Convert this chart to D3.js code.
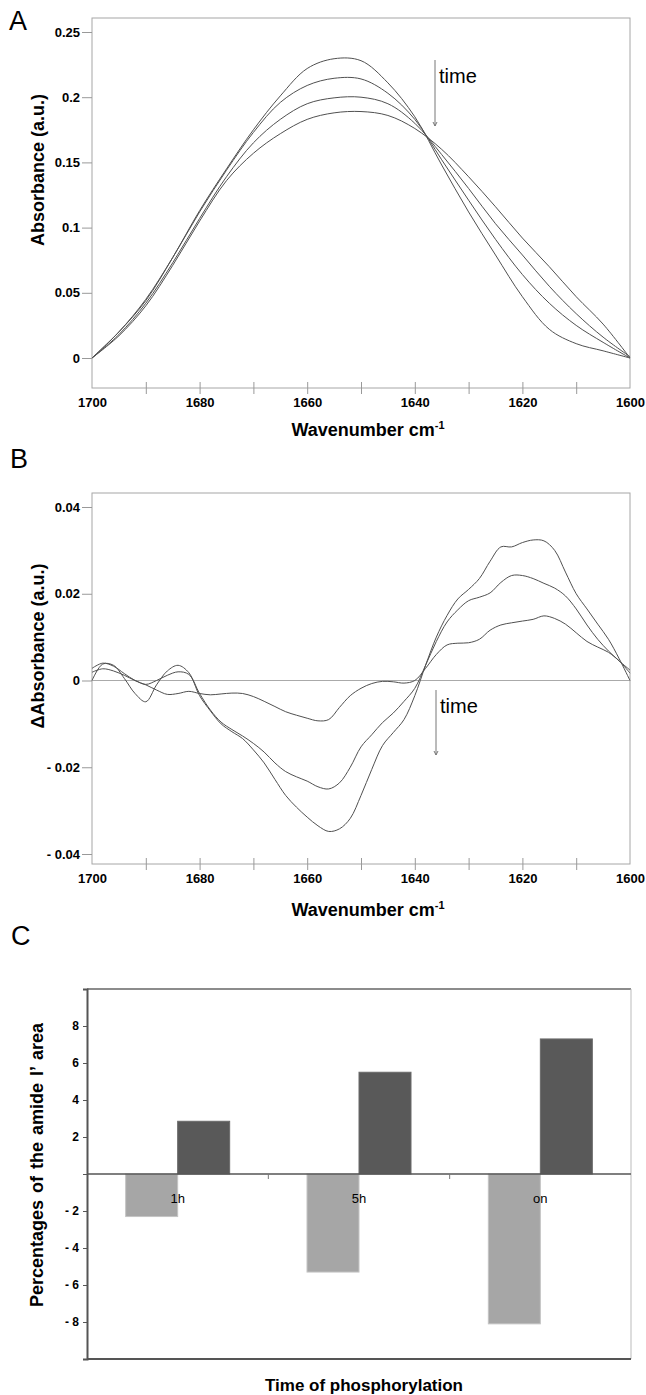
<!DOCTYPE html>
<html>
<head>
<meta charset="utf-8">
<script src="https://cdnjs.cloudflare.com/ajax/libs/d3/7.8.5/d3.min.js"></script>
<style>
    body { margin: 0; background: #fff; }
    svg text { font-family: "Liberation Sans", Arial, Helvetica, sans-serif; fill: #000; }
</style>
</head>
<body>
<div id="figure"></div>
<script>

// ---- Panel A: absorbance spectra (4 time points) ----
var wavenumbersA = [1700, 1695, 1690, 1685, 1680, 1675, 1670, 1665, 1660, 1655, 1650,
                    1645, 1640, 1635, 1630, 1625, 1620, 1615, 1610, 1605, 1600];
var absorbanceT1 = [0.000, 0.020, 0.044, 0.077, 0.113, 0.145, 0.175, 0.201, 0.222, 0.2295, 0.228,
                    0.211, 0.185, 0.148, 0.112, 0.079, 0.047, 0.022, 0.011, 0.0055, 0.000];
var absorbanceT2 = [0.000, 0.020, 0.045, 0.077, 0.112, 0.144, 0.173, 0.196, 0.209, 0.2145, 0.214,
                    0.203, 0.183, 0.152, 0.121, 0.091, 0.064, 0.042, 0.025, 0.012, 0.000];
var absorbanceT3 = [0.000, 0.018, 0.042, 0.073, 0.107, 0.139, 0.165, 0.183, 0.195, 0.1995, 0.200,
                    0.195, 0.180, 0.156, 0.130, 0.103, 0.079, 0.055, 0.034, 0.016, 0.001];
var absorbanceT4 = [0.000, 0.017, 0.040, 0.071, 0.105, 0.136, 0.157, 0.172, 0.183, 0.188, 0.189,
                    0.186, 0.176, 0.160, 0.139, 0.116, 0.092, 0.070, 0.047, 0.026, 0.000];
var yTicksA = [0, 0.05, 0.1, 0.15, 0.2, 0.25];

// ---- Panel B: difference spectra (3 time points) ----
var wavenumbersB = [1700, 1698, 1696, 1694, 1692, 1690, 1688, 1686, 1684, 1682, 1680,
                    1678, 1676, 1674, 1672, 1670, 1668, 1666, 1664, 1662, 1660,
                    1658, 1656, 1654, 1652, 1650, 1648, 1646, 1644, 1642, 1640,
                    1638, 1636, 1634, 1632, 1630, 1628, 1626, 1624, 1622, 1620,
                    1618, 1616, 1614, 1612, 1610, 1608, 1606, 1604, 1602, 1600];
var deltaAbs1h = [0.0028, 0.0040, 0.0033, 0.0016, 0.0000, -0.0010, -0.0022, -0.0032, -0.0030, -0.0025, -0.0030,
                  -0.0033, -0.0031, -0.0029, -0.0030, -0.0037, -0.0048, -0.0060, -0.0072, -0.0080, -0.0087,
                  -0.0093, -0.0090, -0.0062, -0.0035, -0.0018, -0.0007, -0.0002, -0.0003, -0.0006, 0.0000,
                  0.0028, 0.0060, 0.0082, 0.0086, 0.0087, 0.0095, 0.0116, 0.0128, 0.0133, 0.0137,
                  0.0141, 0.0149, 0.0143, 0.0130, 0.0110, 0.0090, 0.0077, 0.0065, 0.0045, 0.0017];
var deltaAbs5h = [0.0019, 0.0027, 0.0022, 0.0012, 0.0000, -0.0009, 0.0000, 0.0012, 0.0020, 0.0014, -0.0030,
                  -0.0068, -0.0096, -0.0113, -0.0128, -0.0145, -0.0165, -0.0190, -0.0210, -0.0222, -0.0232,
                  -0.0245, -0.0250, -0.0236, -0.0200, -0.0153, -0.0125, -0.0097, -0.0075, -0.0048, -0.0018,
                  0.0035, 0.0090, 0.0135, 0.0163, 0.0184, 0.0192, 0.0202, 0.0226, 0.0242, 0.0242,
                  0.0235, 0.0224, 0.0213, 0.0195, 0.0165, 0.0128, 0.0095, 0.0068, 0.0045, 0.0024];
var deltaAbsOn = [0.0000, 0.0038, 0.0035, 0.0005, -0.0030, -0.0049, -0.0010, 0.0022, 0.0035, 0.0018, -0.0035,
                  -0.0070, -0.0100, -0.0118, -0.0134, -0.0160, -0.0190, -0.0228, -0.0265, -0.0292, -0.0315,
                  -0.0335, -0.0348, -0.0342, -0.0318, -0.0265, -0.0205, -0.0150, -0.0120, -0.0090, -0.0035,
                  0.0035, 0.0100, 0.0150, 0.0188, 0.0210, 0.0235, 0.0275, 0.0308, 0.0308, 0.0318,
                  0.0324, 0.0322, 0.0300, 0.0250, 0.0200, 0.0165, 0.0130, 0.0095, 0.0050, 0.0000];
var yTicksB = [-0.04, -0.02, 0, 0.02, 0.04];

// shared x axis ticks
var xLabelTicks = [1700, 1680, 1660, 1640, 1620, 1600];
var xMinorTicks = [1690, 1680, 1670, 1660, 1650, 1640, 1630, 1620, 1610];

// ---- Panel C: amide I' area changes ----
var timeLabels = ["1h", "5h", "on"];
var decreasePct = [-2.3, -5.3, -8.1];
var increasePct = [2.85, 5.5, 7.3];
var yTicksC = [-10, -8, -6, -4, -2, 0, 2, 4, 6, 8, 10];


var svg = d3.select("#figure").append("svg")
    .attr("width", 646)
    .attr("height", 1395);

function panelLetter(letter, x, y) {
    svg.append("text")
        .attr("x", x)
        .attr("y", y)
        .attr("font-size", 27)
        .text(letter);
}

function styleAxisText(g, size) {
    g.selectAll("text")
        .attr("font-size", size)
        .attr("font-weight", "bold")
        .attr("font-family", "Liberation Sans, Arial, sans-serif")
        .attr("fill", "#000");
    g.attr("font-family", null).attr("font-size", null);
}


/*
 * SpectrumPanel - one FTIR spectrum plot (panels A and B)
 */
SpectrumPanel = function(_opts) {
    this.opts = _opts;
    this.initVis();
};

SpectrumPanel.prototype.initVis = function() {
    var vis = this;
    var o = vis.opts;

    vis.left = 92; vis.right = 630;

    vis.x = d3.scaleLinear().domain([1700, 1600]).range([vis.left, vis.right]);
    vis.y = d3.scaleLinear().domain(o.yDomain).range(o.yRange);

    // frame
    svg.append("rect")
        .attr("x", vis.left)
        .attr("y", o.top)
        .attr("width", vis.right - vis.left)
        .attr("height", o.bottom - o.top)
        .attr("fill", "none")
        .attr("stroke", "#a6a6a6")
        .attr("stroke-width", 1);

    // y axis
    var yAxis = d3.axisLeft(vis.y)
        .tickValues(o.yTicks)
        .tickSize(10)
        .tickPadding(2)
        .tickFormat(o.yFormat);
    var gy = svg.append("g")
        .attr("transform", "translate(" + vis.left + ",0)")
        .call(yAxis);
    gy.select(".domain").remove();
    gy.selectAll("line").attr("stroke", "#999");
    styleAxisText(gy, 13);

    // x axis: crossing minor ticks + labels
    var gxm = svg.append("g")
        .attr("transform", "translate(0," + (o.bottom - 6) + ")")
        .call(d3.axisBottom(vis.x).tickValues(xMinorTicks).tickSize(12).tickFormat(""));
    gxm.select(".domain").remove();
    gxm.selectAll("line").attr("stroke", "#999");

    var gxl = svg.append("g")
        .attr("transform", "translate(0," + o.bottom + ")")
        .call(d3.axisBottom(vis.x).tickValues(xLabelTicks).tickSize(0).tickPadding(10).tickFormat(d3.format("d")));
    gxl.select(".domain").remove();
    styleAxisText(gxl, 13);

    // zero line (difference spectra)
    if (o.zeroLine) {
        svg.append("line")
            .attr("x1", vis.left).attr("x2", vis.right)
            .attr("y1", vis.y(0)).attr("y2", vis.y(0))
            .attr("stroke", "#aaa")
            .attr("stroke-width", 1);
    }

    // spectra
    vis.line = d3.line()
        .x(function(d) { return vis.x(d[0]); })
        .y(function(d) { return vis.y(d[1]); })
        .curve(d3.curveCatmullRom.alpha(0.5));

    svg.append("g").selectAll("path")
        .data(o.series)
        .enter().append("path")
        .attr("d", function(s) {
            return vis.line(o.wavenumbers.map(function(w, i) { return [w, s[i]]; }));
        })
        .attr("fill", "none")
        .attr("stroke", "#505050")
        .attr("stroke-width", 1);

    // "time" arrow
    svg.append("line")
        .attr("x1", o.arrowX).attr("x2", o.arrowX)
        .attr("y1", o.arrowTop).attr("y2", o.arrowBottom)
        .attr("stroke", "#777")
        .attr("stroke-width", 1);
    svg.append("path")
        .attr("d", "M" + (o.arrowX - 2) + "," + (o.arrowBottom - 4) + " L" + o.arrowX + "," + o.arrowBottom +
                   " L" + (o.arrowX + 2) + "," + (o.arrowBottom - 4))
        .attr("fill", "none")
        .attr("stroke", "#777")
        .attr("stroke-width", 1);
    svg.append("text")
        .attr("x", o.arrowX + 4)
        .attr("y", o.timeY)
        .attr("font-size", 20)
        .text("time");

    // axis titles
    var xt = svg.append("text")
        .attr("x", (vis.left + vis.right) / 2 + 7)
        .attr("y", o.xTitleY)
        .attr("text-anchor", "middle")
        .attr("font-size", 18)
        .attr("font-weight", "bold")
        .text("Wavenumber cm");
    xt.append("tspan")
        .attr("dy", -7)
        .attr("font-size", 11)
        .text("-1");

    svg.append("text")
        .attr("transform", "translate(38," + o.yTitleCenter + ") rotate(-90)")
        .attr("text-anchor", "middle")
        .attr("dy", "0.35em")
        .attr("font-size", 18)
        .attr("font-weight", "bold")
        .text(o.yTitle);
};


/*
 * Panel A
 */
panelLetter("A", 9, 30);
new SpectrumPanel({
    top: 18, bottom: 388,
    yDomain: [0, 0.25], yRange: [358, 32],
    yTicks: yTicksA,
    yFormat: function(d) { return d === 0 ? "0" : String(+d.toFixed(2)); },
    wavenumbers: wavenumbersA,
    series: [absorbanceT1, absorbanceT2, absorbanceT3, absorbanceT4],
    zeroLine: false,
    arrowX: 435, arrowTop: 60, arrowBottom: 126, timeY: 83,
    xTitleY: 436,
    yTitle: "Absorbance (a.u.)", yTitleCenter: 170
});

/*
 * Panel B
 */
panelLetter("B", 10, 468);
new SpectrumPanel({
    top: 493, bottom: 864,
    yDomain: [-0.04, 0.04], yRange: [854, 507],
    yTicks: yTicksB,
    yFormat: function(d) {
        if (d === 0) return "0";
        return d < 0 ? "- " + (-d).toFixed(2) : d.toFixed(2);
    },
    wavenumbers: wavenumbersB,
    series: [deltaAbs1h, deltaAbs5h, deltaAbsOn],
    zeroLine: true,
    arrowX: 436, arrowTop: 690, arrowBottom: 755, timeY: 713,
    xTitleY: 916,
    yTitle: "\u0394Absorbance (a.u.)", yTitleCenter: 646
});


/*
 * Panel C - bar chart
 */
panelLetter("C", 11, 945);

var cLeft = 87, cRight = 631, cTop = 989, cBottom = 1359;

var cx = d3.scaleBand().domain(timeLabels).range([cLeft, cRight]);
var cy = d3.scaleLinear().domain([-10, 10]).range([cBottom, cTop]);
var cSub = d3.scaleBand().domain(["decrease", "increase"])
    .range([cx.bandwidth() / 2 - 52, cx.bandwidth() / 2 + 52]);

// frame
svg.append("line").attr("x1", cLeft).attr("x2", cRight).attr("y1", cTop).attr("y2", cTop)
    .attr("stroke", "#666").attr("stroke-width", 1.5);
svg.append("line").attr("x1", cRight).attr("x2", cRight).attr("y1", cTop).attr("y2", cBottom)
    .attr("stroke", "#bbb").attr("stroke-width", 1);
svg.append("line").attr("x1", cLeft).attr("x2", cRight).attr("y1", cBottom).attr("y2", cBottom)
    .attr("stroke", "#555").attr("stroke-width", 2);

// bars
var groups = svg.append("g").selectAll("g")
    .data(timeLabels)
    .enter().append("g")
    .attr("transform", function(d) { return "translate(" + cx(d) + ",0)"; });

groups.append("rect")
    .attr("x", cSub("decrease"))
    .attr("width", cSub.bandwidth())
    .attr("y", cy(0))
    .attr("height", function(d, i) { return cy(decreasePct[i]) - cy(0); })
    .attr("fill", "#a6a6a6")
    .attr("stroke", "#c4c4c4")
    .attr("stroke-width", 1);

groups.append("rect")
    .attr("x", cSub("increase"))
    .attr("width", cSub.bandwidth())
    .attr("y", function(d, i) { return cy(increasePct[i]); })
    .attr("height", function(d, i) { return cy(0) - cy(increasePct[i]); })
    .attr("fill", "#595959")
    .attr("stroke", "#6a6a6a")
    .attr("stroke-width", 1);

// zero line + category ticks
svg.append("line").attr("x1", cLeft).attr("x2", cRight).attr("y1", cy(0)).attr("y2", cy(0))
    .attr("stroke", "#555").attr("stroke-width", 1.5);
svg.append("g").selectAll("line")
    .data(timeLabels.slice(1))
    .enter().append("line")
    .attr("x1", function(d) { return cx(d); })
    .attr("x2", function(d) { return cx(d); })
    .attr("y1", cy(0))
    .attr("y2", cy(0) + 5)
    .attr("stroke", "#777");

groups.append("text")
    .attr("x", cx.bandwidth() / 2)
    .attr("y", cy(0) + 29)
    .attr("text-anchor", "middle")
    .attr("font-size", 13)
    .text(function(d) { return d; });

// y axis
var gyc = svg.append("g")
    .attr("transform", "translate(" + cLeft + ",0)")
    .call(d3.axisLeft(cy).tickValues(yTicksC).tickSize(4).tickPadding(4)
        .tickFormat(function(d) {
            if (d === 0 || Math.abs(d) === 10) return "";
            return d < 0 ? "- " + (-d) : String(d);
        }));
gyc.select(".domain").attr("stroke", "#555").attr("stroke-width", 2);
gyc.selectAll("line").attr("stroke", "#555");
styleAxisText(gyc, 12);

// titles
svg.append("text")
    .attr("x", 364)
    .attr("y", 1391)
    .attr("text-anchor", "middle")
    .attr("font-size", 17)
    .attr("font-weight", "bold")
    .text("Time of phosphorylation");

svg.append("text")
    .attr("transform", "translate(37,1165) rotate(-90)")
    .attr("text-anchor", "middle")
    .attr("dy", "0.35em")
    .attr("font-size", 18)
    .attr("font-weight", "bold")
    .attr("word-spacing", 2)
    .text("Percentages of the amide I\u2019 area");

</script>
</body>
</html>
